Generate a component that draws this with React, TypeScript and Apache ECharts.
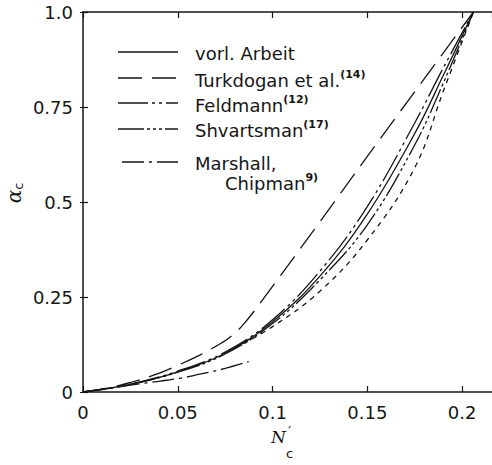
import React, { useEffect, useRef } from "react";
import * as echarts from "echarts";

// axis ticks
const xTickStep = 0.05;
const xMax = 0.2158;
const yTickStep = 0.25;
const yTickLabels: Record<string, string> = { "0": "0", "0.25": "0.25", "0.5": "0.5", "0.75": "0.75", "1": "1.0" };

// vorl. Arbeit (solid)
const vorlN = [0, 0.025, 0.05, 0.075, 0.1, 0.125, 0.15, 0.175, 0.19, 0.206];
const vorlA = [0, 0.02, 0.053, 0.102, 0.185, 0.305, 0.468, 0.68, 0.832, 1.0];

// Turkdogan et al. (long dashes)
const turkN = [0, 0.0125, 0.025, 0.04, 0.05, 0.0616, 0.07, 0.077, 0.085, 0.1, 0.125, 0.15, 0.175, 0.206];
const turkA = [0, 0.01, 0.025, 0.049, 0.07, 0.097, 0.12, 0.142, 0.18, 0.278, 0.448, 0.62, 0.79, 1.0];

// Feldmann (long dash + two dots)
const feldN = [0, 0.025, 0.05, 0.075, 0.1, 0.125, 0.15, 0.175, 0.19, 0.206];
const feldA = [0, 0.021, 0.055, 0.105, 0.19, 0.318, 0.488, 0.708, 0.852, 1.0];

// Shvartsman (long dash + three dots)
const shvN = [0, 0.025, 0.05, 0.075, 0.1, 0.125, 0.15, 0.175, 0.19, 0.206];
const shvA = [0, 0.02, 0.052, 0.1, 0.18, 0.295, 0.44, 0.65, 0.812, 1.0];

// short-dashed branch (right of the group)
const extN = [0.08, 0.1, 0.125, 0.15, 0.175, 0.19, 0.206];
const extA = [0.115, 0.172, 0.265, 0.4, 0.59, 0.79, 1.0];

// Marshall, Chipman (dash-dot)
const marN = [0, 0.01, 0.025, 0.051, 0.0616, 0.075, 0.0874];
const marA = [0, 0.006, 0.018, 0.036, 0.047, 0.062, 0.08];

const pairs = (n: number[], a: number[]) => n.map((v, i) => [v, a[i]]);

const INK = "#161616";
const FONT = "DejaVu Sans";

const dashes = {
  vorl: "solid" as any,
  turk: [24, 10],
  feld: [30, 4, 3, 4, 3, 4],
  shv: [26, 3, 3, 3, 3, 3, 3, 3],
  ext: [5, 5],
  mar: [22, 5, 3, 5],
};

const mkSeries = (name: string, n: number[], a: number[], type: any) => ({
  name,
  type: "line",
  data: pairs(n, a),
  showSymbol: false,
  symbol: "none",
  smooth: 0.4,
  lineStyle: { color: INK, width: 1.3, type },
  silent: true,
});

const legendRows = [
  { y: 53, ly: 52, lx: 118, dash: dashes.vorl, t: "vorl. Arbeit", s: "" },
  { y: 80, ly: 78, lx: 118, dash: dashes.turk, t: "Turkdogan et al.", s: "(14)" },
  { y: 105, ly: 103, lx: 118, dash: dashes.feld, t: "Feldmann", s: "(12)" },
  { y: 130, ly: 129, lx: 118, dash: dashes.shv, t: "Shvartsman", s: "(17)" },
  { y: 163, ly: 162, lx: 122, dash: dashes.mar, t: "Marshall,", s: "" },
];

const rich = {
  t: { fontSize: 18, fontFamily: FONT, fill: INK, color: INK, lineHeight: 22 },
  s: { fontSize: 11, fontFamily: FONT, fill: INK, color: INK, verticalAlign: "top", lineHeight: 22, fontWeight: "bold" },
};

const graphics: any[] = [];
legendRows.forEach((r) => {
  graphics.push({
    type: "line",
    shape: { x1: r.lx, y1: r.ly, x2: 178, y2: r.ly },
    style: { stroke: INK, lineWidth: 1.3, lineDash: r.dash === "solid" ? null : r.dash },
    silent: true,
  });
  graphics.push({
    type: "text",
    x: 195,
    y: r.y,
    style: {
      text: r.s ? `{t|${r.t}}{s|${r.s}}` : `{t|${r.t}}`,
      rich,
      verticalAlign: "middle",
    },
    silent: true,
  });
});
graphics.push({
  type: "text",
  x: 225,
  y: 183,
  style: { text: "{t|Chipman}{s|9)}", rich, verticalAlign: "middle" },
  silent: true,
});
// y-axis name (alpha_c), rotated
graphics.push({
  type: "text",
  x: 14,
  y: 193,
  rotation: Math.PI / 2,
  style: {
    text: "{a|α}{c|c}",
    rich: {
      a: { fontSize: 20, fontFamily: "DejaVu Serif", fontStyle: "italic", fill: INK, color: INK, lineHeight: 22 },
      c: { fontSize: 13, fontFamily: FONT, fill: INK, color: INK, verticalAlign: "bottom", lineHeight: 22 },
    },
    align: "center",
    verticalAlign: "middle",
  },
  silent: true,
});
// x-axis name (N'_c)
graphics.push({
  type: "text",
  x: 271,
  y: 437,
  style: { text: "N", fontSize: 17, fontFamily: "DejaVu Serif", fontStyle: "italic", fill: INK, verticalAlign: "middle" },
  silent: true,
});
graphics.push({
  type: "text",
  x: 288,
  y: 431,
  style: { text: "′", fontSize: 14, fontFamily: "DejaVu Sans", fill: INK, verticalAlign: "middle" },
  silent: true,
});
graphics.push({
  type: "text",
  x: 286,
  y: 453,
  style: { text: "c", fontSize: 13, fontFamily: FONT, fill: INK, verticalAlign: "middle" },
  silent: true,
});

const fmtX = (v: number) => (v === 0 ? "0" : String(Number(v.toFixed(3))));
const fmtY = (v: number) => yTickLabels[String(Number(v.toFixed(3)))] ?? String(v);

const option: any = {
  animation: false,
  backgroundColor: "#ffffff",
  grid: { left: 83, right: 0, top: 12, bottom: 73, containLabel: false },
  xAxis: [
    {
      type: "value",
      min: 0,
      max: xMax,
      interval: xTickStep,
      position: "bottom",
      axisLine: { show: true, onZero: false, lineStyle: { color: INK, width: 1.5 } },
      axisTick: { show: true, inside: true, length: 6, lineStyle: { color: INK, width: 1.2 } },
      axisLabel: { show: true, formatter: fmtX, color: INK, fontSize: 18, fontFamily: FONT, margin: 11, showMaxLabel: false },
      splitLine: { show: false },
    },
    {
      type: "value",
      min: 0,
      max: xMax,
      interval: xTickStep,
      position: "top",
      axisLine: { show: true, onZero: false, lineStyle: { color: INK, width: 1.5 } },
      axisTick: { show: true, inside: true, length: 6, lineStyle: { color: INK, width: 1.2 } },
      axisLabel: { show: false },
      splitLine: { show: false },
    },
  ],
  yAxis: [
    {
      type: "value",
      min: 0,
      max: 1,
      interval: yTickStep,
      position: "left",
      axisLine: { show: true, onZero: false, lineStyle: { color: INK, width: 1.5 } },
      axisTick: { show: true, inside: true, length: 5, lineStyle: { color: INK, width: 1.2 } },
      axisLabel: { show: true, formatter: fmtY, color: INK, fontSize: 18, fontFamily: FONT, margin: 10 },
      splitLine: { show: false },
    },
    {
      type: "value",
      min: 0,
      max: 1,
      interval: yTickStep,
      position: "right",
      axisLine: { show: false },
      axisTick: { show: true, inside: true, length: 3, lineStyle: { color: INK, width: 1 } },
      axisLabel: { show: false },
      splitLine: { show: false },
    },
  ],
  series: [
    mkSeries("vorl. Arbeit", vorlN, vorlA, dashes.vorl),
    mkSeries("Turkdogan et al.", turkN, turkA, dashes.turk),
    mkSeries("Feldmann", feldN, feldA, dashes.feld),
    mkSeries("Shvartsman", shvN, shvA, dashes.shv),
    mkSeries("Feldmann (extrap.)", extN, extA, dashes.ext),
    mkSeries("Marshall, Chipman", marN, marA, dashes.mar),
  ],
  graphic: graphics,
};

export default function App() {
  const ref = useRef<HTMLDivElement>(null);
  useEffect(() => {
    const chart = echarts.init(ref.current!, null, { renderer: "svg" });
    chart.setOption(option);
    return () => chart.dispose();
  }, []);
  return (
    <div
      ref={ref}
      style={{ position: "absolute", left: 0, top: 0, width: 492, height: 465, background: "#fff" }}
    />
  );
}
